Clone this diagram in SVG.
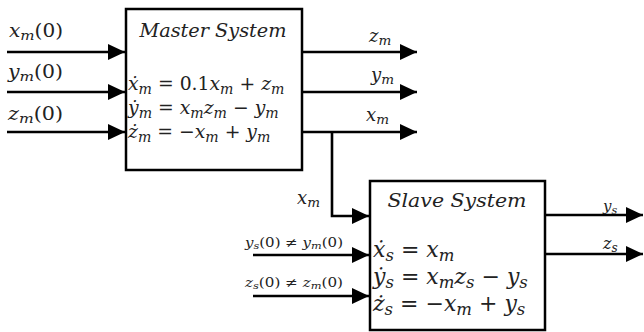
<svg xmlns="http://www.w3.org/2000/svg" width="644" height="332" viewBox="0 0 644 332">
<defs>
<marker id="ah" markerWidth="18" markerHeight="18" refX="17" refY="8" orient="auto" markerUnits="userSpaceOnUse">
<path d="M0,0 L17,8 L0,16 Z" fill="#000"/>
</marker>
<style>
.box{fill:#fff;stroke:#000;stroke-width:2.5}
.ln{fill:none;stroke:#000;stroke-width:2.6;marker-end:url(#ah)}
text{font-family:"DejaVu Serif","Liberation Serif",serif;fill:#222}
.it{font-style:italic}
.t{font-style:italic;font-size:19px;text-anchor:middle}
.eq{font-size:18.8px}
.eqs{font-size:22px}
.lb{font-size:18px}
.sm{font-size:13px}
.sb{font-size:0.75em;baseline-shift:-0.25em;font-style:italic}
</style>
</defs>
<rect width="644" height="332" fill="#fff"/>
<g id="connectors">
<path class="ln" d="M7,52 H125"/>
<path class="ln" d="M7,92 H125"/>
<path class="ln" d="M7,132 H125"/>
<path class="ln" d="M302,52 H417"/>
<path class="ln" d="M302,92 H417"/>
<path class="ln" d="M302,132 H417"/>
<path class="ln" d="M332,132 V216 H369"/>
<path class="ln" d="M253,255 H369"/>
<path class="ln" d="M253,296 H369"/>
<path class="ln" d="M545,215 H643"/>
<path class="ln" d="M545,254 H643"/>
</g>
<g id="labels">
<text class="lb" x="9" y="37" textLength="54" lengthAdjust="spacingAndGlyphs"><tspan class="it">x</tspan><tspan class="sb">m</tspan>(0)</text>
<text class="lb" x="8" y="78" textLength="55" lengthAdjust="spacingAndGlyphs"><tspan class="it">y</tspan><tspan class="sb">m</tspan>(0)</text>
<text class="lb" x="8" y="120" textLength="55" lengthAdjust="spacingAndGlyphs"><tspan class="it">z</tspan><tspan class="sb">m</tspan>(0)</text>
<text class="lb" x="369" y="42"><tspan class="it">z</tspan><tspan class="sb">m</tspan></text>
<text class="lb" x="371" y="81"><tspan class="it">y</tspan><tspan class="sb">m</tspan></text>
<text class="lb" x="366" y="121"><tspan class="it">x</tspan><tspan class="sb">m</tspan></text>
<text class="lb" x="297" y="204"><tspan class="it">x</tspan><tspan class="sb">m</tspan></text>
<text class="sm" x="245" y="247" textLength="98" lengthAdjust="spacingAndGlyphs"><tspan class="it">y</tspan><tspan class="sb">s</tspan>(0) ≠ <tspan class="it">y</tspan><tspan class="sb">m</tspan>(0)</text>
<text class="sm" x="245" y="287" textLength="98" lengthAdjust="spacingAndGlyphs"><tspan class="it">z</tspan><tspan class="sb">s</tspan>(0) ≠ <tspan class="it">z</tspan><tspan class="sb">m</tspan>(0)</text>
<text class="lb" x="603" y="211" style="font-size:15px"><tspan class="it">y</tspan><tspan class="sb">s</tspan></text>
<text class="lb" x="603" y="249" style="font-size:16px"><tspan class="it">z</tspan><tspan class="sb">s</tspan></text>
</g>
<g id="master">
<rect class="box" x="126" y="9" width="176" height="161"/>
<text class="t" x="213" y="37" textLength="147" lengthAdjust="spacingAndGlyphs">Master System</text>
<text class="eq" x="128" y="90"><tspan class="it">ẋ</tspan><tspan class="sb">m</tspan> = 0.1<tspan class="it">x</tspan><tspan class="sb">m</tspan> + <tspan class="it">z</tspan><tspan class="sb">m</tspan></text>
<text class="eq" x="128" y="114"><tspan class="it">ẏ</tspan><tspan class="sb">m</tspan> = <tspan class="it">x</tspan><tspan class="sb">m</tspan><tspan class="it">z</tspan><tspan class="sb">m</tspan> − <tspan class="it">y</tspan><tspan class="sb">m</tspan></text>
<text class="eq" x="128" y="138"><tspan class="it">ż</tspan><tspan class="sb">m</tspan> = −<tspan class="it">x</tspan><tspan class="sb">m</tspan> + <tspan class="it">y</tspan><tspan class="sb">m</tspan></text>
</g>
<g id="slave">
<rect class="box" x="370" y="181" width="175" height="149"/>
<text class="t" x="457" y="207" textLength="139" lengthAdjust="spacingAndGlyphs">Slave System</text>
<text class="eqs" x="373" y="257"><tspan class="it">ẋ</tspan><tspan class="sb">s</tspan> = <tspan class="it">x</tspan><tspan class="sb">m</tspan></text>
<text class="eqs" x="373" y="284"><tspan class="it">ẏ</tspan><tspan class="sb">s</tspan> = <tspan class="it">x</tspan><tspan class="sb">m</tspan><tspan class="it">z</tspan><tspan class="sb">s</tspan> − <tspan class="it">y</tspan><tspan class="sb">s</tspan></text>
<text class="eqs" x="373" y="311"><tspan class="it">ż</tspan><tspan class="sb">s</tspan> = −<tspan class="it">x</tspan><tspan class="sb">m</tspan> + <tspan class="it">y</tspan><tspan class="sb">s</tspan></text>
</g>
</svg>
